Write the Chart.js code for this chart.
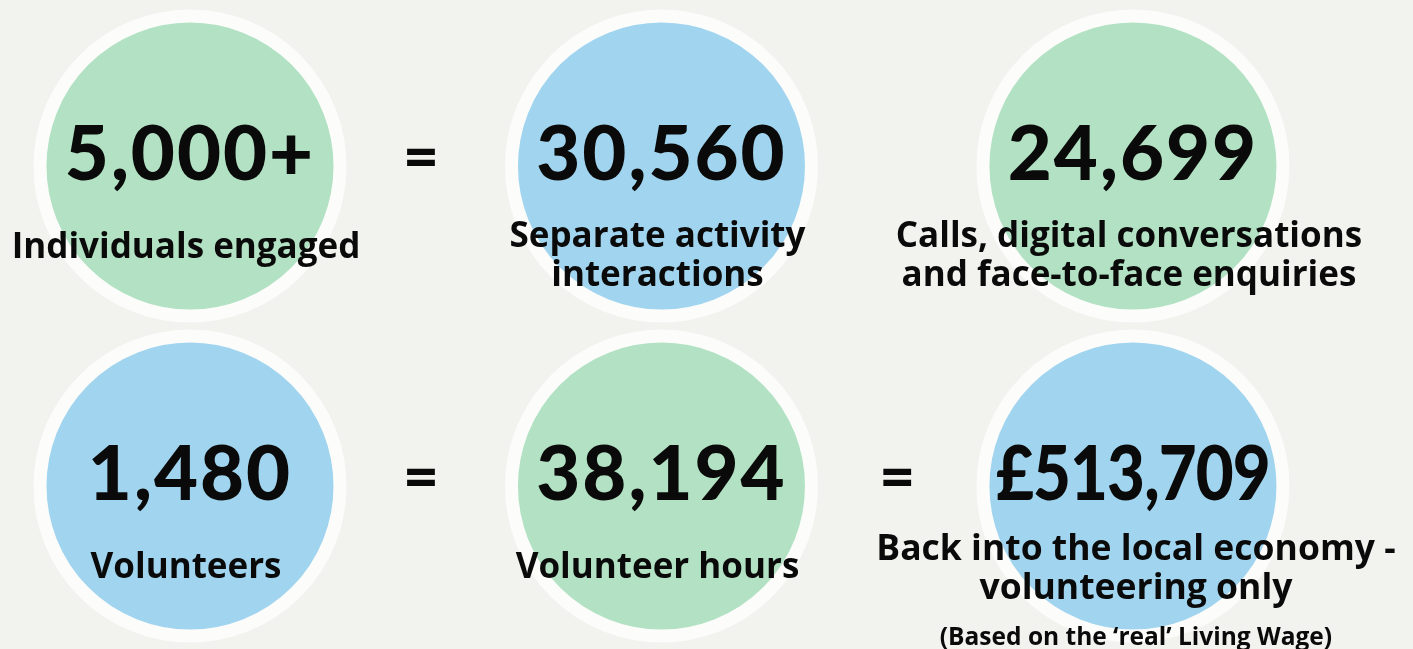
<!DOCTYPE html>
<html>
<head>
<meta charset="utf-8">
<script src="https://cdn.jsdelivr.net/npm/chart.js@4.4.0/dist/chart.umd.min.js"></script>
<style>
  html, body { margin: 0; padding: 0; background: #f2f2ef; }
  #wrap { width: 1413px; height: 649px; }
</style>
</head>
<body>
<div id="wrap"><canvas id="stats" width="1413" height="649"></canvas></div>
<script>
// headline figures, one per circle
const statValues = ['5,000+', '30,560', '24,699', '1,480', '38,194', '£513,709'];
const statLabels = [
    ['Individuals engaged'],
    ['Separate activity', 'interactions'],
    ['Calls, digital conversations', 'and face-to-face enquiries'],
    ['Volunteers'],
    ['Volunteer hours'],
    ['Back into the local economy -', 'volunteering only']
];
const statNotes = ['', '', '', '', '', '(Based on the ‘real’ Living Wage)'];
const statColour = ['green', 'blue', 'green', 'blue', 'green', 'blue'];
// grid slot of each circle
const gridCol = [0, 1, 2, 0, 1, 2];
const gridRow = [0, 0, 0, 1, 1, 1];
// "=" signs sit between circles
const equalsCol = [0.49, 0.49, 1.5];
const equalsRow = [0, 1, 1];

const fills = { green: '#b2e2c3', blue: '#a1d5ef' };

// label baseline offsets under the circle centre
const labelLayout = [
    { size: 35, first: 92, step: 39, dx: -4 },
    { size: 35, first: 81, step: 39, dx: -4 },
    { size: 35, first: 81, step: 39, dx: -4 },
    { size: 35, first: 92, step: 39, dx: -4 },
    { size: 35, first: 92, step: 39, dx: -4 },
    { size: 35.5, first: 74, step: 39, dx: 3, note: 24.5, noteAt: 159 }
];

const statText = {
    id: 'statText',
    afterDatasetsDraw(chart) {
        const ctx = chart.ctx;
        const pts = chart.getDatasetMeta(0).data;
        const xs = chart.scales.x, ys = chart.scales.y;
        ctx.save();
        ctx.fillStyle = '#0a0a0a';
        ctx.textAlign = 'center';
        ctx.textBaseline = 'alphabetic';

        pts.forEach((p, i) => {
            const lay = labelLayout[i];
            ctx.font = '900 76px Lato';
            if (statValues[i].startsWith('£')) {
                // the pound figure is set narrower in the original
                ctx.save();
                ctx.letterSpacing = '-1px';
                ctx.translate(p.x, p.y + 14);
                ctx.scale(0.86, 1);
                ctx.fillText(statValues[i], 0, 0);
                ctx.restore();
            } else {
                ctx.letterSpacing = '2px';
                ctx.fillText(statValues[i], p.x, p.y + 14);
                ctx.letterSpacing = '0px';
            }

            ctx.font = `700 ${lay.size}px "Open Sans"`;
            statLabels[i].forEach((line, j) => {
                ctx.fillText(line, p.x + lay.dx, p.y + lay.first + j * lay.step);
            });
            if (statNotes[i]) {
                ctx.font = `700 ${lay.note}px "Open Sans"`;
                ctx.fillText(statNotes[i], p.x + 3, p.y + lay.noteAt);
            }
        });

        ctx.font = '900 62px Lato';
        equalsCol.forEach((c, i) => {
            const y = ys.getPixelForValue(equalsRow[i]);
            ctx.fillText('=', xs.getPixelForValue(c), y + 12);
        });
        ctx.restore();
    }
};

function draw() {
    new Chart(document.getElementById('stats'), {
        type: 'bubble',
        data: {
            datasets: [{
                data: gridCol.map((c, i) => ({ x: c, y: gridRow[i] })),
                backgroundColor: statColour.map(c => fills[c]),
                borderColor: '#fcfcfb',
                borderWidth: 13,
                radius: 150,
                hoverRadius: 0
            }]
        },
        options: {
            responsive: false,
            devicePixelRatio: 1,
            animation: false,
            events: [],
            layout: { padding: 0, autoPadding: false },
            plugins: { legend: { display: false }, tooltip: { enabled: false } },
            scales: {
                x: { type: 'linear', display: false, min: -0.403, max: 2.594 },
                y: { type: 'linear', display: false, reverse: true, min: -0.519, max: 1.509 }
            }
        },
        plugins: [statText]
    });
}

if (document.fonts && document.fonts.load) {
    Promise.all([
        document.fonts.load('900 76px Lato'),
        document.fonts.load('700 35px "Open Sans"')
    ]).then(draw, draw);
} else {
    draw();
}
</script>
</body>
</html>
